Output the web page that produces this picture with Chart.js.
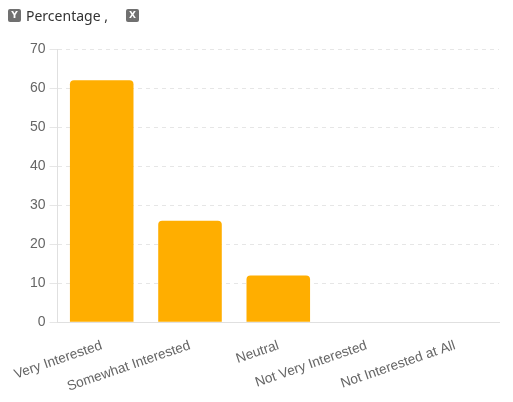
<!DOCTYPE html>
<html>
<head>
<meta charset="utf-8">
<script src="https://cdn.jsdelivr.net/npm/chart.js@4"></script>
<style>
  html, body { margin: 0; padding: 0; background: #fff; }
  #wrap { position: relative; width: 513px; height: 402px; }
  #chart { display: block; }
  #legend {
    position: absolute; left: 8px; top: 6px;
    font-family: "Noto Sans", "Open Sans", sans-serif; font-size: 14px; color: #333;
    display: flex; align-items: center;
  }
  .tag {
    display: inline-block; width: 13px; height: 13px; line-height: 13px;
    background: #707070; color: #fff; border-radius: 2px;
    font-size: 9px; font-weight: bold; text-align: center;
    font-family: "DejaVu Sans", sans-serif;
  }
  #legend .name { margin: 0 18px 0 5px; }
</style>
</head>
<body>
<div id="wrap">
  <div id="legend"><span class="tag">Y</span><span class="name">Percentage ,</span><span class="tag">X</span></div>
  <canvas id="chart" width="513" height="402"></canvas>
</div>
<script>
// Survey categories and share of respondents (%)
const categories = [
  "Very Interested",
  "Somewhat Interested",
  "Neutral",
  "Not Very Interested",
  "Not Interested at All",
];
const percentages = [62, 26, 12, 0, 0];
const yTicks = [0, 10, 20, 30, 40, 50, 60, 70];

const ctx = document.getElementById("chart");

new Chart(ctx, {
  type: "bar",
  data: {
    labels: categories,
    datasets: [
      {
        label: "Percentage",
        data: percentages,
        backgroundColor: "#FFAE00",
        borderRadius: 4,
        borderSkipped: "bottom",
      },
    ],
  },
  options: {
    responsive: false,
    animation: false,
    layout: {
      padding: { top: 49, right: 14, left: 26, bottom: 0 },
    },
    scales: {
      x: {
        grid: { display: false },
        border: { color: "#e0e0e0" },
        ticks: {
          color: "#666",
          font: { family: "Liberation Sans", size: 13.7 },
          minRotation: 19,
          maxRotation: 19,
          padding: 7,
        },
      },
      y: {
        min: 0,
        max: 70,
        afterBuildTicks: (axis) => {
          axis.ticks = yTicks.map((v) => ({ value: v }));
        },
        grid: {
          color: "#e6e6e6",
          tickLength: 8,
        },
        border: { color: "#e0e0e0", dash: [4, 4] },
        ticks: {
          color: "#666",
          font: { family: "Liberation Sans", size: 14 },
          padding: 4,
        },
      },
    },
    plugins: {
      legend: { display: false },
      tooltip: { enabled: false },
    },
  },
});
</script>
</body>
</html>
